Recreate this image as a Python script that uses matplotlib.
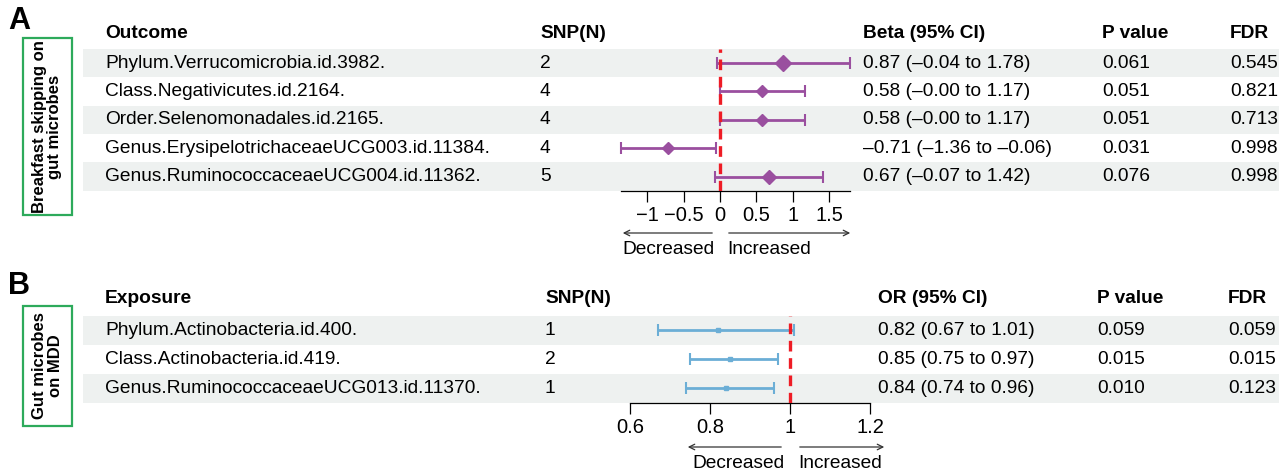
import matplotlib
matplotlib.use("Agg")
import matplotlib.pyplot as plt
import matplotlib.patches as patches

plt.rcParams['font.family'] = ['Liberation Sans', 'DejaVu Sans']

# Panel A: breakfast skipping on gut microbes
outcomes_a = ["Phylum.Verrucomicrobia.id.3982.", "Class.Negativicutes.id.2164.",
              "Order.Selenomonadales.id.2165.", "Genus.ErysipelotrichaceaeUCG003.id.11384.",
              "Genus.RuminococcaceaeUCG004.id.11362."]
snp_a = [2, 4, 4, 4, 5]
beta_a = [0.87, 0.58, 0.58, -0.71, 0.67]
lo_a = [-0.04, -0.0, -0.0, -1.36, -0.07]
hi_a = [1.78, 1.17, 1.17, -0.06, 1.42]
p_a = ["0.061", "0.051", "0.051", "0.031", "0.076"]
fdr_a = ["0.545", "0.821", "0.713", "0.998", "0.998"]
ticks_a = [-1, -0.5, 0, 0.5, 1, 1.5]

# Panel B: gut microbes on MDD
exposures_b = ["Phylum.Actinobacteria.id.400.", "Class.Actinobacteria.id.419.",
               "Genus.RuminococcaceaeUCG013.id.11370."]
snp_b = [1, 2, 1]
or_b = [0.82, 0.85, 0.84]
lo_b = [0.67, 0.75, 0.74]
hi_b = [1.01, 0.97, 0.96]
p_b = ["0.059", "0.015", "0.010"]
fdr_b = ["0.059", "0.015", "0.123"]
ticks_b = [0.6, 0.8, 1, 1.2]

W, H = 1279, 473
FS = 13.8


def fmt(v):
    return f"{v:.2f}".replace("-", "\u2013")


fig = plt.figure(figsize=(W / 100, H / 100), dpi=100)
bg = fig.add_axes([0, 0, 1, 1])
bg.set_xlim(0, W)
bg.set_ylim(H, 0)
bg.axis('off')


def panel(letter, box_text, box_y0, box_y1, head_y, row_y0, step, names, head,
          snp, est, lo, hi, pv, fdr, cols, ref, xpix0, scale, ax_x0, ax_x1,
          ticks, color, msizes, marker, arrow_y, dec_x, inc_x, dec_end, inc_end):
    n = len(names)
    bg.text(8, head_y - 12, letter, fontsize=22, fontweight='bold', va='center')
    bg.add_patch(patches.Rectangle((23, box_y0), 49, box_y1 - box_y0, fill=False,
                                   edgecolor='#2DAA5B', linewidth=1.6))
    bg.text(47.5, (box_y0 + box_y1) / 2, box_text, rotation=90, ha='center', va='center',
            fontsize=12, fontweight='bold', linespacing=1.0)
    for c, h in zip(cols, head):
        bg.text(c, head_y, h, fontsize=FS, fontweight='bold', va='center')
    for i in range(n):
        y = row_y0 + i * step
        if i % 2 == 0:
            bg.add_patch(patches.Rectangle((83, y - step / 2), W - 83, step,
                                           facecolor='#EEF1F0', edgecolor='none'))
        bg.text(cols[0], y, names[i], fontsize=FS, va='center')
        bg.text(cols[1], y, str(snp[i]), fontsize=FS, va='center')
        bg.text(cols[2], y, f"{fmt(est[i])} ({fmt(lo[i])} to {fmt(hi[i])})",
                fontsize=FS, va='center')
        bg.text(cols[3], y, pv[i], fontsize=FS, va='center')
        bg.text(cols[4], y, fdr[i], fontsize=FS, va='center')

    # forest axes placed over the rows
    top = row_y0 - step / 2
    bottom = row_y0 + (n - 0.5) * step
    ax = fig.add_axes([ax_x0 / W, 1 - bottom / H, (ax_x1 - ax_x0) / W, (bottom - top) / H])
    ax.set_facecolor('none')
    ax.set_xlim(ref + (ax_x0 - xpix0) / scale, ref + (ax_x1 - xpix0) / scale)
    ax.set_ylim(n - 0.5, -0.5)
    for s in ['top', 'right', 'left']:
        ax.spines[s].set_visible(False)
    ax.spines['bottom'].set_bounds(min(ticks[0], min(lo)), max(ticks[-1], max(hi)))
    ax.spines['bottom'].set_linewidth(0.9)
    ax.set_yticks([])
    ax.set_xticks(ticks)
    ax.set_xticklabels([f"{t:g}".replace("-", "\u2212") for t in ticks])
    ax.tick_params(axis='x', length=8, width=0.9, labelsize=14.5, pad=3)
    for i in range(n):
        ax.errorbar(est[i], i, xerr=[[est[i] - lo[i]], [hi[i] - est[i]]], fmt=marker,
                    color=color, ms=msizes[i], elinewidth=2, capsize=4, capthick=1.5,
                    zorder=3)
    ax.axvline(ref, color='#EE1C25', linewidth=2.4, linestyle=(0, (3.2, 2.0)), zorder=5)

    arrow = dict(arrowstyle='->', color='#333333', linewidth=0.9)
    bg.annotate('', xy=(dec_end, arrow_y), xytext=(dec_x, arrow_y), arrowprops=arrow)
    bg.annotate('', xy=(inc_end, arrow_y), xytext=(inc_x, arrow_y), arrowprops=arrow)
    bg.text(dec_x, arrow_y + 16, "Decreased", fontsize=FS, ha='right', va='center')
    bg.text(inc_x + 1, arrow_y + 16, "Increased", fontsize=FS, ha='left', va='center')


panel("A", "Breakfast skipping on\ngut microbes", 38, 215, 33, 63, 28.4, outcomes_a,
      ["Outcome", "SNP(N)", "Beta (95% CI)", "P value", "FDR"],
      snp_a, beta_a, lo_a, hi_a, p_a, fdr_a, [105, 540, 863, 1102, 1230],
      0, 720, 72.8, 600, 862, ticks_a, '#9A4F9F', [8, 6.5, 6.5, 6.5, 7], 'D',
      233, 715, 726, 620, 853)

panel("B", "Gut microbes\non MDD", 306, 426, 298, 330, 29, exposures_b,
      ["Exposure", "SNP(N)", "OR (95% CI)", "P value", "FDR"],
      snp_b, or_b, lo_b, hi_b, p_b, fdr_b, [105, 545, 878, 1097, 1228],
      1, 790, 400, 600, 890, ticks_b, '#6BAED6', [3, 3, 3], 's',
      447, 784, 797, 685, 887)

fig.savefig("out.png", dpi=100)
